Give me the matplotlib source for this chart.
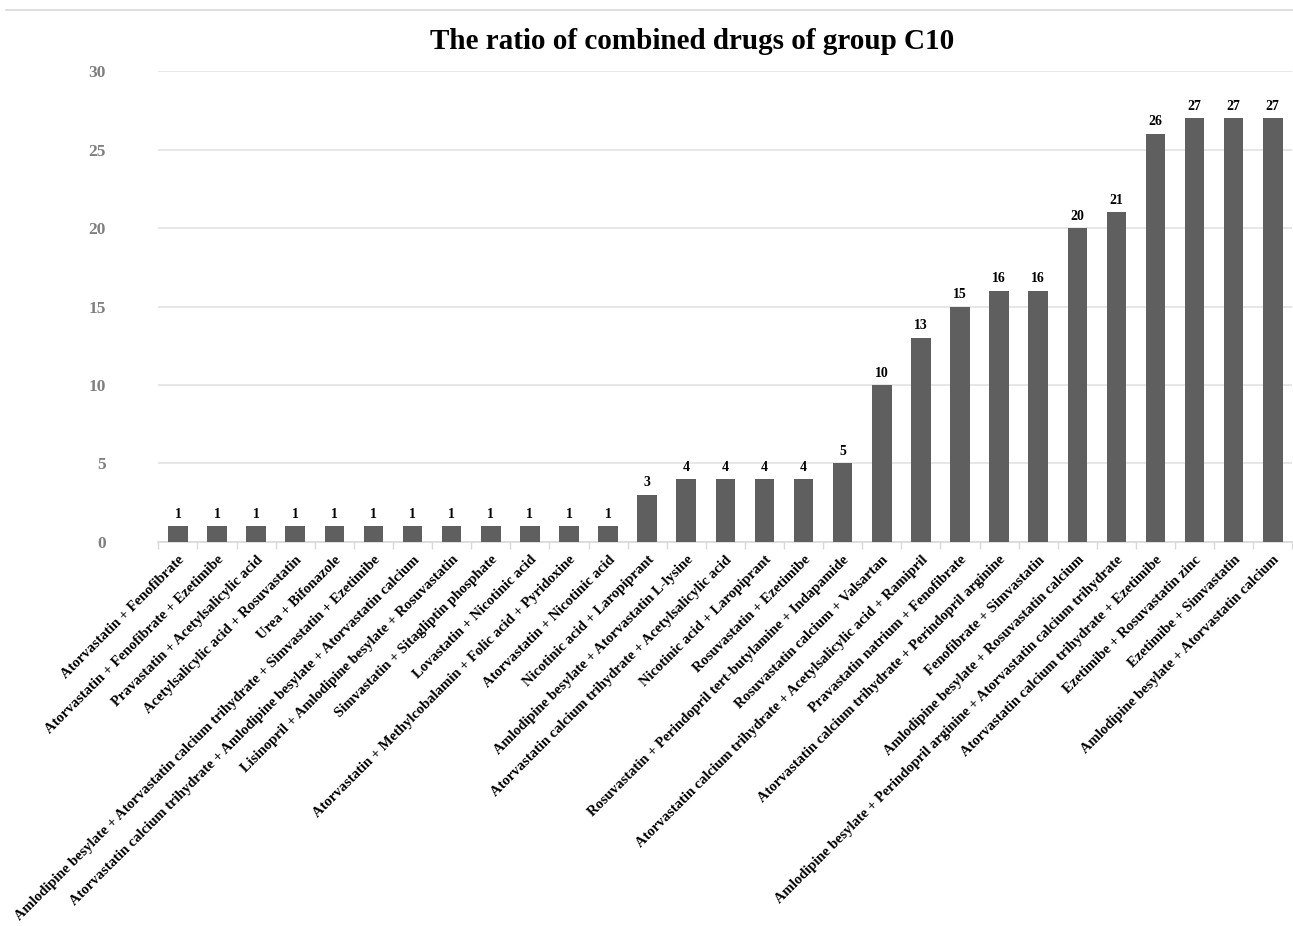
import matplotlib
matplotlib.use('Agg')
import matplotlib.pyplot as plt
import numpy as np

combos = [
    "Atorvastatin + Fenofibrate",
    "Atorvastatin + Fenofibrate + Ezetimibe",
    "Pravastatin + Acetylsalicylic acid",
    "Acetylsalicylic acid + Rosuvastatin",
    "Urea + Bifonazole",
    "Amlodipine besylate + Atorvastatin calcium trihydrate + Simvastatin + Ezetimibe",
    "Atorvastatin calcium trihydrate + Amlodipine besylate + Atorvastatin calcium",
    "Lisinopril + Amlodipine besylate + Rosuvastatin",
    "Simvastatin + Sitagliptin phosphate",
    "Lovastatin + Nicotinic acid",
    "Atorvastatin + Methylcobalamin + Folic acid + Pyridoxine",
    "Atorvastatin + Nicotinic acid",
    "Nicotinic acid + Laropiprant",
    "Amlodipine besylate + Atorvastatin L-lysine",
    "Atorvastatin calcium trihydrate + Acetylsalicylic acid",
    "Nicotinic acid + Laropiprant",
    "Rosuvastatin + Ezetimibe",
    "Rosuvastatin + Perindopril tert-butylamine + Indapamide",
    "Rosuvastatin calcium + Valsartan",
    "Atorvastatin calcium trihydrate + Acetylsalicylic acid + Ramipril",
    "Pravastatin natrium + Fenofibrate",
    "Atorvastatin calcium trihydrate + Perindopril arginine",
    "Fenofibrate + Simvastatin",
    "Amlodipine besylate + Rosuvastatin calcium",
    "Amlodipine besylate + Perindopril arginine + Atorvastatin calcium trihydrate",
    "Atorvastatin calcium trihydrate + Ezetimibe",
    "Ezetimibe + Rosuvastatin zinc",
    "Ezetimibe + Simvastatin",
    "Amlodipine besylate + Atorvastatin calcium",
]
counts = [1, 1, 1, 1, 1, 1, 1, 1, 1, 1, 1, 1, 3, 4, 4, 4, 4, 5,
          10, 13, 15, 16, 16, 20, 21, 26, 27, 27, 27]
y_ticks = [0, 5, 10, 15, 20, 25, 30]

plt.rcParams['font.family'] = ['Liberation Serif', 'DejaVu Serif']

fig = plt.figure(figsize=(12.93, 9.26), dpi=100)
ax = fig.add_axes([0.1225, 0.4147, 0.877, 0.5086])

x = np.arange(len(combos))
ax.bar(x, counts, width=0.5, color='#5f5f5f', zorder=3)
for xi, v in zip(x, counts):
    ax.text(xi, v + 0.35, str(v), ha='center', va='bottom',
            fontsize=10, fontweight='bold', color='black')

ax.set_xlim(-0.5, len(combos) - 0.5)
ax.set_ylim(0, 30)
ax.set_yticks(y_ticks)
ax.set_yticklabels([str(t) for t in y_ticks], fontsize=12.5, fontweight='bold', color='#7f7f7f')
ax.tick_params(axis='y', length=0, pad=38)
ax.yaxis.grid(True, color='#e3e3e3', linewidth=1.2, zorder=0)

ax.set_xticks(x)
ax.set_xticklabels(combos, rotation=45, ha='right', rotation_mode='anchor',
                   fontsize=10.5, fontweight='bold')
ax.tick_params(axis='x', length=0, pad=8)
ax.set_xticks(np.arange(-0.5, len(combos), 1), minor=True)
ax.tick_params(axis='x', which='minor', length=5, color='#d9d9d9', width=1)

for side in ['top', 'right', 'left']:
    ax.spines[side].set_visible(False)
ax.spines['bottom'].set_color('#d9d9d9')
ax.spines['bottom'].set_linewidth(1.2)

fig.text(0.535, 0.955, 'The ratio of combined drugs of group C10',
         ha='center', va='center', fontsize=21, fontweight='bold')

# outer chart border line at the top
fig.add_artist(plt.Line2D([0.005, 1.0], [0.989, 0.989], color='#d9d9d9', linewidth=1.2))

plt.savefig('out.png', dpi=100)
plt.close()
